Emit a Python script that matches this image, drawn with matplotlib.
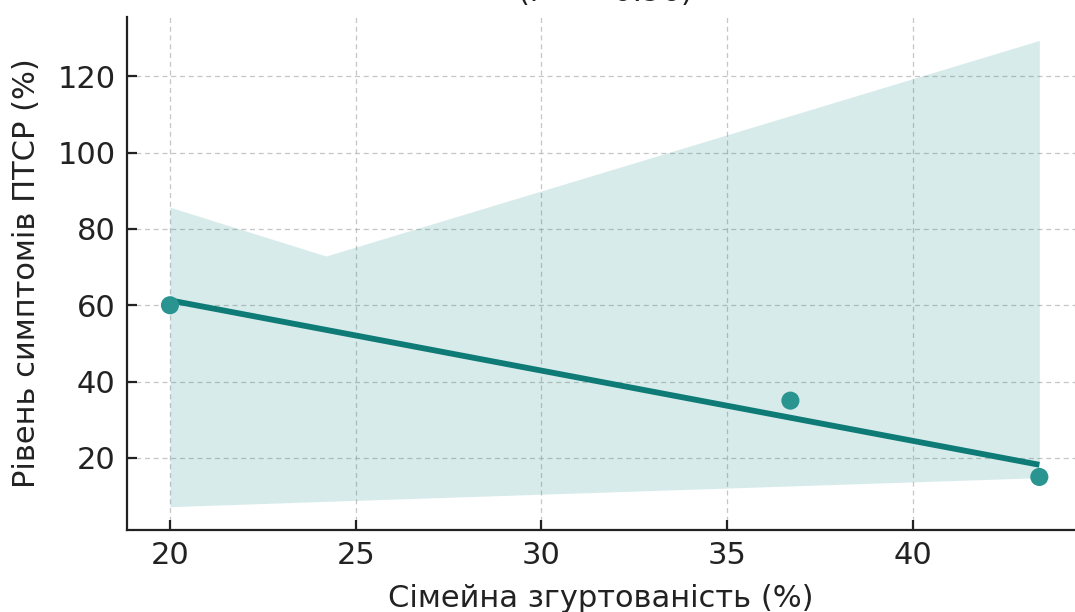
import matplotlib
matplotlib.use("Agg")
import matplotlib.pyplot as plt
import numpy as np

# Data
cohesion = [20.0, 36.7, 43.4]
ptsd = [60.0, 35.0, 15.0]
band_x = [20.0, 24.2, 43.4]
band_upper = [85.7, 72.9, 129.4]
band_lower = [7.2, 8.6, 14.8]
title_text = "(r = −0.96)"
xlabel = "Сімейна згуртованість (%)"
ylabel = "Рівень симптомів ПТСР (%)"

plt.rcParams['font.family'] = ['DejaVu Sans']

fig = plt.figure(figsize=(10.75, 6.12), dpi=100)
ax = fig.add_axes([0.118, 0.134, 0.882, 0.838])

teal = '#0e7b76'
ax.fill_between(band_x, band_lower, band_upper, color=(0.1, 0.55, 0.55), alpha=0.17, linewidth=0, zorder=1)

coef = np.polyfit(cohesion, ptsd, 1)
xs = np.array([min(cohesion), max(cohesion)])
ax.plot(xs, np.polyval(coef, xs), color=teal, lw=4.2, zorder=3, solid_capstyle='butt')
ax.scatter(cohesion, ptsd, s=170, color='#2a9490', zorder=4, edgecolors='none')

ax.set_xlim(18.84, 44.36)
ax.set_ylim(1.1, 135.5)
ax.set_xticks([20, 25, 30, 35, 40])
ax.set_yticks([20, 40, 60, 80, 100, 120])
ax.grid(True, linestyle=(0, (4, 3)), color='#b8b8b8', linewidth=0.9, alpha=0.8, zorder=0)
ax.set_axisbelow(True)
for s in ['top', 'right']:
    ax.spines[s].set_visible(False)
for s in ['left', 'bottom']:
    ax.spines[s].set_linewidth(1.6)
    ax.spines[s].set_color('#222222')
ax.tick_params(direction='in', length=7, width=1.6, labelsize=22, colors='#222222', pad=8)
ax.set_xlabel(xlabel, fontsize=22, color='#222222', labelpad=10)
ax.set_ylabel(ylabel, fontsize=22, color='#222222', labelpad=12)

fig.text(0.563, 0.999, title_text, ha='center', va='baseline', fontsize=22, color='#222222')

fig.savefig('out.png', dpi=100)
